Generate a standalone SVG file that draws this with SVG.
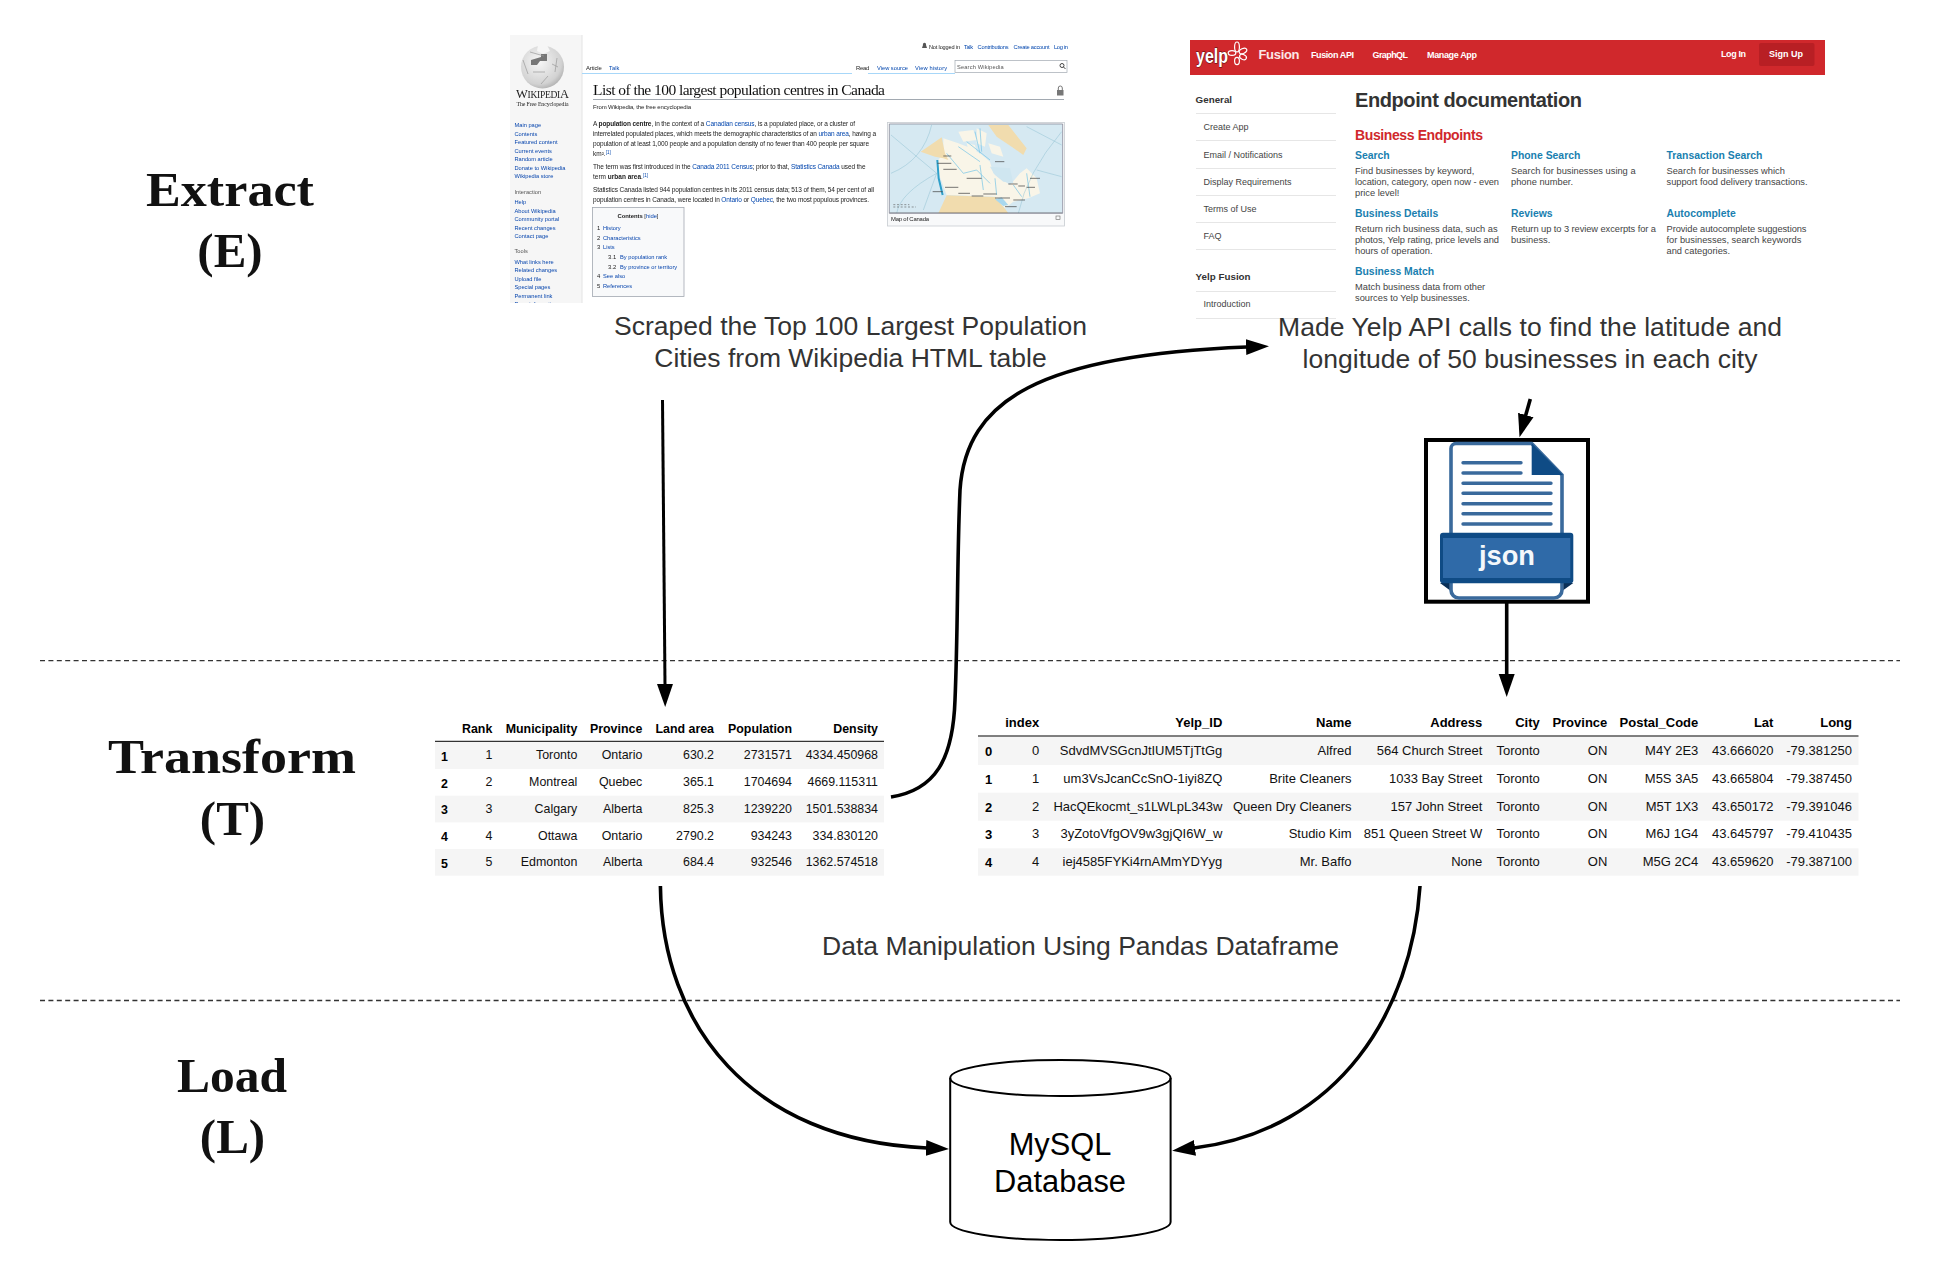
<svg xmlns="http://www.w3.org/2000/svg" width="1940" height="1280" viewBox="0 0 1940 1280">
<style>
text{font-family:"Liberation Sans",Arial,sans-serif}
.stage{font-family:"Liberation Serif","DejaVu Serif",serif;font-weight:700;font-size:49px;fill:#111;text-anchor:middle}
.cap{font-size:26.5px;fill:#333;text-anchor:middle}
.w{font-size:6.5px;fill:#222}
.l{fill:#0645ad}
.b{font-weight:700}
.s{font-size:5.7px;fill:#0645ad}
.sh{font-size:5.7px;fill:#555}
.c{font-size:5.9px;fill:#222}
.y{font-size:9px;fill:#444}
.yh{font-size:10.4px;font-weight:700;fill:#1a7fb0}
.yn{font-size:9px;font-weight:700;fill:#fff}
.ys{font-size:9.3px;fill:#444}
.yb{font-size:9.8px;font-weight:700;fill:#333}
.t1{font-size:12.4px;fill:#111;text-anchor:end}
.t1h{font-size:12.4px;font-weight:700;fill:#000;text-anchor:end}
.t2{font-size:13px;fill:#111;text-anchor:end}
.t2h{font-size:13px;font-weight:700;fill:#000;text-anchor:end}
.bd{font-weight:700;fill:#000;text-anchor:start}
.conn{fill:none;stroke:#000;stroke-width:3.6}
.dash{stroke:#333;stroke-width:1.3;stroke-dasharray:5 3.4;fill:none}
.dv{stroke:#e6e6e6;stroke-width:1}
.st{fill:#f5f5f5}
.doc{stroke:#3a6a9c;stroke-width:3.4;stroke-linecap:round}
</style>
<defs>
<marker id="head" markerUnits="userSpaceOnUse" markerWidth="25" markerHeight="18" refX="1" refY="8.5" orient="auto"><path d="M0 0.5L23 8.5L0 16.5Z" fill="#000"/></marker>
<radialGradient id="globe" cx="0.42" cy="0.38" r="0.72"><stop offset="0" stop-color="#f7f7f7"/><stop offset="0.72" stop-color="#d2d2d2"/><stop offset="1" stop-color="#a0a0a0"/></radialGradient>
<filter id="soft" x="-2%" y="-2%" width="104%" height="104%"><feGaussianBlur stdDeviation="0.32"/></filter>
<clipPath id="wikiclip"><rect x="505" y="35" width="570" height="268"/></clipPath>
<clipPath id="mapclip"><rect x="28" y="42" width="520" height="268"/></clipPath>
</defs>
<rect width="1940" height="1280" fill="#fff"/>

<g id="stage-labels">
<text class="stage" x="230" y="205.7" textLength="168" lengthAdjust="spacingAndGlyphs">Extract</text>
<text class="stage" x="230" y="266.7">(E)</text>
<text class="stage" x="232" y="773.3" textLength="248" lengthAdjust="spacingAndGlyphs">Transform</text>
<text class="stage" x="232.5" y="834.7">(T)</text>
<text class="stage" x="232" y="1091.7" textLength="110" lengthAdjust="spacingAndGlyphs">Load</text>
<text class="stage" x="232.5" y="1153">(L)</text>
</g>

<g id="separators">
<line class="dash" x1="40" y1="660.7" x2="1900" y2="660.7"/>
<line class="dash" x1="40" y1="1000.5" x2="1900" y2="1000.5"/>
</g>

<g id="wikipedia-screenshot" clip-path="url(#wikiclip)">
<g filter="url(#soft)">
<rect x="510" y="35" width="72" height="268" fill="#f6f6f6"/>
<path d="M582 35V303" stroke="#e4e4e4"/>
<circle cx="542.5" cy="67" r="21.5" fill="url(#globe)"/>
<path d="M538 45l9 0l3 6l-7 3l-6-3Z" fill="#f6f6f6"/>
<path d="M531 60l10-3l0-3l6 0l0 7l-7 0l-3 4l-6 0Z" fill="#777"/>
<path d="M523 60l5 14M557 58l-2 14M548 76l-7 8M530 52l14 4M533 72h12M552 64l6 3" stroke="#999" stroke-width="0.7" fill="none"/>
<text x="516" y="98" style="font-family:'Liberation Serif',serif" fill="#222" font-size="12.5" textLength="53">W<tspan font-size="9.5">IKIPEDI</tspan>A</text>
<text x="542.5" y="105.5" font-size="5.8" text-anchor="middle" style="font-family:'Liberation Serif',serif" fill="#222" textLength="52">The Free Encyclopedia</text>
<text class="s" x="514.5" y="127">Main page</text>
<text class="s" x="514.5" y="135.5">Contents</text>
<text class="s" x="514.5" y="144">Featured content</text>
<text class="s" x="514.5" y="152.5">Current events</text>
<text class="s" x="514.5" y="161">Random article</text>
<text class="s" x="514.5" y="169.5">Donate to Wikipedia</text>
<text class="s" x="514.5" y="178">Wikipedia store</text>
<text class="sh" x="514.5" y="193.5">Interaction</text>
<text class="s" x="514.5" y="204">Help</text>
<text class="s" x="514.5" y="212.5">About Wikipedia</text>
<text class="s" x="514.5" y="221">Community portal</text>
<text class="s" x="514.5" y="229.5">Recent changes</text>
<text class="s" x="514.5" y="238">Contact page</text>
<text class="sh" x="514.5" y="253">Tools</text>
<text class="s" x="514.5" y="263.5">What links here</text>
<text class="s" x="514.5" y="272">Related changes</text>
<text class="s" x="514.5" y="280.5">Upload file</text>
<text class="s" x="514.5" y="289">Special pages</text>
<text class="s" x="514.5" y="297.5">Permanent link</text>
<text class="s" x="514.5" y="306">Page information</text>

<text class="c" x="929" y="49" style="font-size:5.6px" textLength="31">Not logged in</text>
<path d="M922 48h5l-1-3a1.6 1.6 0 1 0-3 0Z" fill="#555"/>
<text class="s" x="964" y="49" textLength="9">Talk</text>
<text class="s" x="977.6" y="49" textLength="31">Contributions</text>
<text class="s" x="1013.6" y="49" textLength="36">Create account</text>
<text class="s" x="1054" y="49" textLength="14">Log in</text>
<path d="M582 73.5H852M868 73.5H955" stroke="#a7d7f9"/>
<text class="c" x="586" y="70" textLength="15.7">Article</text>
<text class="s" x="609" y="70" textLength="10.3">Talk</text>
<text class="c" x="856" y="70" textLength="13.4">Read</text>
<text class="s" x="877" y="70" textLength="31">View source</text>
<text class="s" x="915" y="70" textLength="32">View history</text>
<rect x="955" y="60.5" width="112" height="12" fill="#fff" stroke="#a2a9b1" stroke-width="0.7"/>
<text class="sh" x="957" y="69" textLength="46.7">Search Wikipedia</text>
<circle cx="1062" cy="65.5" r="2" fill="none" stroke="#444"/><path d="M1063.5 67l2 2" stroke="#444"/>

<text x="593" y="95" font-size="15.5" style="font-family:'Liberation Serif',serif" fill="#111" textLength="292">List of the 100 largest population centres in Canada</text>
<path d="M593 99.5H1064" stroke="#a2a9b1"/>
<rect x="1057" y="90" width="6.5" height="5.5" fill="#777"/><path d="M1058.3 90v-2a2 2 0 0 1 4 0v2" fill="none" stroke="#777"/>
<text class="w" x="593" y="109" textLength="98" style="font-size:6px">From Wikipedia, the free encyclopedia</text>

<text class="w" x="593" y="126" textLength="262">A <tspan class="b">population centre</tspan>, in the context of a <tspan class="l">Canadian census</tspan>, is a populated place, or a cluster of</text>
<text class="w" x="593" y="136" textLength="283">interrelated populated places, which meets the demographic characteristics of an <tspan class="l">urban area</tspan>, having a</text>
<text class="w" x="593" y="146" textLength="276">population of at least 1,000 people and a population density of no fewer than 400 people per square</text>
<text class="w" x="593" y="156">km².<tspan class="l" font-size="4.5" dy="-2">[1]</tspan></text>
<text class="w" x="593" y="169" textLength="272.5">The term was first introduced in the <tspan class="l">Canada 2011 Census</tspan>; prior to that, <tspan class="l">Statistics Canada</tspan> used the</text>
<text class="w" x="593" y="178.5">term <tspan class="b">urban area</tspan>.<tspan class="l" font-size="4.5" dy="-2">[1]</tspan></text>
<text class="w" x="593" y="192" textLength="281">Statistics Canada listed 944 population centres in its 2011 census data; 513 of them, 54 per cent of all</text>
<text class="w" x="593" y="201.5" textLength="276">population centres in Canada, were located in <tspan class="l">Ontario</tspan> or <tspan class="l">Quebec</tspan>, the two most populous provinces.</text>

<rect x="592.5" y="207.5" width="91.5" height="89" fill="#f8f9fa" stroke="#a2a9b1" stroke-width="0.8"/>
<text class="c" x="638" y="218" text-anchor="middle" textLength="41"><tspan class="b">Contents</tspan> [<tspan class="l">hide</tspan>]</text>
<text class="c" x="597" y="229.5">1</text><text class="s" x="603" y="229.5">History</text>
<text class="c" x="597" y="239.5">2</text><text class="s" x="603" y="239.5">Characteristics</text>
<text class="c" x="597" y="249">3</text><text class="s" x="603" y="249">Lists</text>
<text class="c" x="608" y="258.5">3.1</text><text class="s" x="620" y="258.5">By population rank</text>
<text class="c" x="608" y="268.5">3.2</text><text class="s" x="620" y="268.5">By province or territory</text>
<text class="c" x="597" y="278">4</text><text class="s" x="603" y="278">See also</text>
<text class="c" x="597" y="288">5</text><text class="s" x="603" y="288">References</text>

<rect x="887.5" y="122.5" width="177" height="103.5" fill="#f8f9fa" stroke="#c8ccd1" stroke-width="0.8"/>
<g transform="translate(880 110) scale(0.3333)">
<g clip-path="url(#mapclip)">
<rect x="28" y="42" width="520" height="268" fill="#d6e9f2"/>
<path d="M190 85L235 100L262 110L300 130L330 155L340 190L390 225L420 190L440 175L470 205L480 250L445 265L400 275L375 295L345 260L200 255L170 175L175 150L190 130Z" fill="#f9f5e8"/>
<path d="M235 65L280 60L290 90L250 95ZM290 55L320 70L315 110L290 100ZM325 100L360 110L370 140L335 130ZM260 100L285 105L290 125L265 120Z" fill="#f9f5e8"/>
<path d="M122 125L185 82L195 130L205 150L190 145L165 140Z" fill="#f1dcae"/>
<path d="M325 45L385 45L440 115L430 135L395 110L350 80Z" fill="#f1dcae"/>
<path d="M175 310L200 256L345 261L375 296L385 310Z" fill="#f1dcae"/>
<path d="M330 170L390 175L400 220L370 215L345 195Z" fill="#cfe6f0"/>
<path d="M345 268L365 262L385 285L370 288Z" fill="#a9d8ee"/>
<path d="M285 65L300 130M260 95L330 150M300 55L305 125M235 110L300 155M200 130L250 190M250 190L290 180L330 220M300 165L310 240M345 205L350 255M400 225L425 260M440 190L450 260" stroke="#7cc7e6" stroke-width="2.2" fill="none"/>
<path d="M33 190Q130 150 155 45M33 75L170 190M170 190Q60 250 50 310M545 65Q440 190 415 310M545 200L470 180M440 50L545 105M130 300L170 190" stroke="#86bccd" stroke-width="1.3" fill="none"/>
<path d="M172 150L176 205L188 255" stroke="#2d9fc9" stroke-width="6" fill="none"/>
<path d="M190 138h24M172 160h42M190 178h40M260 205h45M345 155h28M158 245h30M195 232h40M235 250h35M275 258h35M310 252h40M345 264h45M385 222h28M415 228h20M440 232h25M450 205h30M400 270h35M375 290h35" stroke="#444" stroke-width="2.2" fill="none"/>
<path d="M40 284h48M40 291h68" stroke="#555" stroke-width="1.8" fill="none" stroke-dasharray="6 5"/>
<path d="M28 309.5H548" stroke="#555" stroke-width="3"/>
</g>
<path d="M28 42H548V310H28Z" fill="none" stroke="#778" stroke-width="2"/>
</g>
<text class="c" x="891" y="221" textLength="38">Map of Canada</text>
<rect x="1056" y="216" width="4" height="3.5" fill="none" stroke="#666" stroke-width="0.6"/>
</g>
</g>

<g id="yelp-screenshot">
<rect x="1190" y="40" width="635" height="35" fill="#d0282c"/>
<text x="1196" y="62.5" font-size="21" font-weight="700" fill="#fff" stroke="#4a0c0c" stroke-width="0.9" paint-order="stroke" textLength="32" lengthAdjust="spacingAndGlyphs">yelp</text>
<g fill="#d0282c" stroke="#fff" stroke-width="1.2">
<ellipse cx="1237" cy="47" rx="2.4" ry="5"/>
<ellipse cx="1243" cy="51" rx="4" ry="2.4" transform="rotate(-25 1243 51)"/>
<ellipse cx="1243" cy="57" rx="3.6" ry="2.4" transform="rotate(25 1243 57)"/>
<ellipse cx="1237" cy="61" rx="2.4" ry="3.6"/>
<ellipse cx="1232" cy="53" rx="3.8" ry="2.4"/>
</g>
<text x="1258.5" y="59" font-size="13" font-weight="700" fill="#fbe6e6" textLength="41">Fusion</text>
<text class="yn" x="1311" y="58" textLength="43">Fusion API</text>
<text class="yn" x="1372.5" y="58" textLength="35.5">GraphQL</text>
<text class="yn" x="1427" y="58" textLength="50">Manage App</text>
<text class="yn" x="1721" y="57" textLength="25">Log In</text>
<rect x="1759" y="43" width="55.5" height="23" rx="2" fill="#b81f24"/>
<text class="yn" x="1769" y="57" textLength="34">Sign Up</text>

<text class="yb" x="1195.6" y="103">General</text>
<text class="y" x="1203.4" y="130">Create App</text>
<text class="y" x="1203.4" y="157.6">Email / Notifications</text>
<text class="y" x="1203.4" y="185">Display Requirements</text>
<text class="y" x="1203.4" y="211.6">Terms of Use</text>
<text class="y" x="1203.4" y="238.6">FAQ</text>
<text class="yb" x="1195.6" y="280">Yelp Fusion</text>
<text class="y" x="1203.4" y="307">Introduction</text>
<path class="dv" d="M1196 113.5H1336M1196 140.5H1336M1196 168.5H1336M1196 195.5H1336M1196 222.5H1336M1196 249.5H1336M1196 291.5H1336M1196 318.5H1336"/>

<text x="1355" y="107" font-size="20" font-weight="700" fill="#333" textLength="227">Endpoint documentation</text>
<text x="1355" y="140" font-size="14" font-weight="700" fill="#d0282c" textLength="128">Business Endpoints</text>

<text class="yh" x="1355" y="158.7">Search</text>
<text class="yh" x="1511" y="158.7">Phone Search</text>
<text class="yh" x="1666.5" y="158.7">Transaction Search</text>
<text class="ys" x="1355" y="173.7">Find businesses by keyword,</text>
<text class="ys" x="1355" y="184.7" textLength="144">location, category, open now - even</text>
<text class="ys" x="1355" y="195.7">price level!</text>
<text class="ys" x="1511" y="173.7">Search for businesses using a</text>
<text class="ys" x="1511" y="184.7">phone number.</text>
<text class="ys" x="1666.5" y="173.7">Search for businesses which</text>
<text class="ys" x="1666.5" y="184.7" textLength="141">support food delivery transactions.</text>

<text class="yh" x="1355" y="216.7">Business Details</text>
<text class="yh" x="1511" y="216.7">Reviews</text>
<text class="yh" x="1666.5" y="216.7">Autocomplete</text>
<text class="ys" x="1355" y="231.7">Return rich business data, such as</text>
<text class="ys" x="1355" y="242.7" textLength="144">photos, Yelp rating, price levels and</text>
<text class="ys" x="1355" y="253.7">hours of operation.</text>
<text class="ys" x="1511" y="231.7" textLength="145">Return up to 3 review excerpts for a</text>
<text class="ys" x="1511" y="242.7">business.</text>
<text class="ys" x="1666.5" y="231.7" textLength="140">Provide autocomplete suggestions</text>
<text class="ys" x="1666.5" y="242.7">for businesses, search keywords</text>
<text class="ys" x="1666.5" y="253.7">and categories.</text>

<text class="yh" x="1355" y="275">Business Match</text>
<text class="ys" x="1355" y="290">Match business data from other</text>
<text class="ys" x="1355" y="301">sources to Yelp businesses.</text>
</g>

<g id="scrape-caption">
<text class="cap" x="850.5" y="335" textLength="473">Scraped the Top 100 Largest Population</text>
<text class="cap" x="850.5" y="367" textLength="392.5">Cities from Wikipedia HTML table</text>
</g>
<g id="yelp-caption">
<text class="cap" x="1530" y="336" textLength="504">Made Yelp API calls to find the latitude and</text>
<text class="cap" x="1530" y="368" textLength="455">longitude of 50 businesses in each city</text>
</g>

<g id="json-file">
<rect x="1426" y="440" width="162" height="161.7" fill="#fff" stroke="#000" stroke-width="4"/>
<path d="M1531.7 443.5H1456a5 5 0 0 0-5 5V590a8 8 0 0 0 8 8H1554a8 8 0 0 0 8-8V475Z" fill="#fff" stroke="#3a6a9c" stroke-width="3.6"/>
<path d="M1531.7 443.3L1563 475H1531.7Z" fill="#0f4b85"/>
<path class="doc" d="M1463 462.7H1521M1463 473H1521M1463 483.3H1551M1463 493.3H1551M1463 503.7H1551M1463 513.7H1551M1463 524H1551"/>
<path d="M1440 583L1449.5 590V583ZM1573.3 583L1563.5 590V583Z" fill="#0a2f57"/>
<rect x="1440" y="532.7" width="133.3" height="50.6" rx="3" fill="#0f4b85"/>
<rect x="1443" y="538" width="127.3" height="40" fill="#2f6aa8"/>
<text x="1507" y="565" font-size="27" font-weight="700" fill="#f4f8fb" text-anchor="middle" textLength="56" lengthAdjust="spacingAndGlyphs">json</text>
</g>

<g id="table-cities">
<rect class="st" x="435" y="742" width="449" height="27"/>
<rect class="st" x="435" y="795.7" width="449" height="26.7"/>
<rect class="st" x="435" y="849" width="449" height="26.7"/>
<path d="M435 741.3H884" stroke="#000" stroke-width="1"/>
<text class="t1h" x="492.3" y="732.7">Rank</text><text class="t1h" x="577.3" y="732.7">Municipality</text><text class="t1h" x="642.3" y="732.7">Province</text><text class="t1h" x="714" y="732.7">Land area</text><text class="t1h" x="792" y="732.7">Population</text><text class="t1h" x="878" y="732.7">Density</text>
<text class="t1 bd" x="441" y="760.5">1</text><text class="t1" x="492.3" y="759.3">1</text><text class="t1" x="577.3" y="759.3">Toronto</text><text class="t1" x="642.3" y="759.3">Ontario</text><text class="t1" x="714" y="759.3">630.2</text><text class="t1" x="792" y="759.3">2731571</text><text class="t1" x="878" y="759.3">4334.450968</text>
<text class="t1 bd" x="441" y="787.5">2</text><text class="t1" x="492.3" y="786.3">2</text><text class="t1" x="577.3" y="786.3">Montreal</text><text class="t1" x="642.3" y="786.3">Quebec</text><text class="t1" x="714" y="786.3">365.1</text><text class="t1" x="792" y="786.3">1704694</text><text class="t1" x="878" y="786.3">4669.115311</text>
<text class="t1 bd" x="441" y="814.2">3</text><text class="t1" x="492.3" y="813">3</text><text class="t1" x="577.3" y="813">Calgary</text><text class="t1" x="642.3" y="813">Alberta</text><text class="t1" x="714" y="813">825.3</text><text class="t1" x="792" y="813">1239220</text><text class="t1" x="878" y="813">1501.538834</text>
<text class="t1 bd" x="441" y="840.9">4</text><text class="t1" x="492.3" y="839.7">4</text><text class="t1" x="577.3" y="839.7">Ottawa</text><text class="t1" x="642.3" y="839.7">Ontario</text><text class="t1" x="714" y="839.7">2790.2</text><text class="t1" x="792" y="839.7">934243</text><text class="t1" x="878" y="839.7">334.830120</text>
<text class="t1 bd" x="441" y="867.5">5</text><text class="t1" x="492.3" y="866.3">5</text><text class="t1" x="577.3" y="866.3">Edmonton</text><text class="t1" x="642.3" y="866.3">Alberta</text><text class="t1" x="714" y="866.3">684.4</text><text class="t1" x="792" y="866.3">932546</text><text class="t1" x="878" y="866.3">1362.574518</text>
</g>

<g id="table-businesses">
<rect class="st" x="978" y="736.7" width="880.5" height="28.3"/>
<rect class="st" x="978" y="792.7" width="880.5" height="28"/>
<rect class="st" x="978" y="848.3" width="880.5" height="27.4"/>
<path d="M978 736H1858.5" stroke="#000" stroke-width="1"/>
<text class="t2h" x="1039.2" y="727">index</text><text class="t2h" x="1222.3" y="727">Yelp_ID</text><text class="t2h" x="1351.5" y="727">Name</text><text class="t2h" x="1482.3" y="727">Address</text><text class="t2h" x="1539.8" y="727">City</text><text class="t2h" x="1607.3" y="727">Province</text><text class="t2h" x="1698.3" y="727">Postal_Code</text><text class="t2h" x="1773.4" y="727">Lat</text><text class="t2h" x="1852" y="727">Long</text>
<text class="t2 bd" x="985" y="756">0</text><text class="t2" x="1039.2" y="755">0</text><text class="t2" x="1222.3" y="755">SdvdMVSGcnJtIUM5TjTtGg</text><text class="t2" x="1351.5" y="755">Alfred</text><text class="t2" x="1482.3" y="755">564 Church Street</text><text class="t2" x="1539.8" y="755">Toronto</text><text class="t2" x="1607.3" y="755">ON</text><text class="t2" x="1698.3" y="755">M4Y 2E3</text><text class="t2" x="1773.4" y="755">43.666020</text><text class="t2" x="1852" y="755">-79.381250</text>
<text class="t2 bd" x="985" y="783.7">1</text><text class="t2" x="1039.2" y="782.7">1</text><text class="t2" x="1222.3" y="782.7">um3VsJcanCcSnO-1iyi8ZQ</text><text class="t2" x="1351.5" y="782.7">Brite Cleaners</text><text class="t2" x="1482.3" y="782.7">1033 Bay Street</text><text class="t2" x="1539.8" y="782.7">Toronto</text><text class="t2" x="1607.3" y="782.7">ON</text><text class="t2" x="1698.3" y="782.7">M5S 3A5</text><text class="t2" x="1773.4" y="782.7">43.665804</text><text class="t2" x="1852" y="782.7">-79.387450</text>
<text class="t2 bd" x="985" y="811.7">2</text><text class="t2" x="1039.2" y="810.7">2</text><text class="t2" x="1222.3" y="810.7">HacQEkocmt_s1LWLpL343w</text><text class="t2" x="1351.5" y="810.7">Queen Dry Cleaners</text><text class="t2" x="1482.3" y="810.7">157 John Street</text><text class="t2" x="1539.8" y="810.7">Toronto</text><text class="t2" x="1607.3" y="810.7">ON</text><text class="t2" x="1698.3" y="810.7">M5T 1X3</text><text class="t2" x="1773.4" y="810.7">43.650172</text><text class="t2" x="1852" y="810.7">-79.391046</text>
<text class="t2 bd" x="985" y="839.3">3</text><text class="t2" x="1039.2" y="838.3">3</text><text class="t2" x="1222.3" y="838.3">3yZotoVfgOV9w3gjQI6W_w</text><text class="t2" x="1351.5" y="838.3">Studio Kim</text><text class="t2" x="1482.3" y="838.3">851 Queen Street W</text><text class="t2" x="1539.8" y="838.3">Toronto</text><text class="t2" x="1607.3" y="838.3">ON</text><text class="t2" x="1698.3" y="838.3">M6J 1G4</text><text class="t2" x="1773.4" y="838.3">43.645797</text><text class="t2" x="1852" y="838.3">-79.410435</text>
<text class="t2 bd" x="985" y="867">4</text><text class="t2" x="1039.2" y="866">4</text><text class="t2" x="1222.3" y="866">iej4585FYKi4rnAMmYDYyg</text><text class="t2" x="1351.5" y="866">Mr. Baffo</text><text class="t2" x="1482.3" y="866">None</text><text class="t2" x="1539.8" y="866">Toronto</text><text class="t2" x="1607.3" y="866">ON</text><text class="t2" x="1698.3" y="866">M5G 2C4</text><text class="t2" x="1773.4" y="866">43.659620</text><text class="t2" x="1852" y="866">-79.387100</text>
</g>

<g id="pandas-caption">
<text class="cap" x="1080.6" y="955" textLength="517">Data Manipulation Using Pandas Dataframe</text>
</g>

<g id="mysql-database">
<path d="M950.2 1078A110.2 18 0 0 1 1170.6 1078V1222A110.2 18 0 0 1 950.2 1222Z" fill="#fff" stroke="#000" stroke-width="2"/>
<path d="M950.2 1078A110.2 18 0 0 0 1170.6 1078" fill="none" stroke="#000" stroke-width="2"/>
<text x="1060" y="1155" font-size="30.8" text-anchor="middle" fill="#000">MySQL</text>
<text x="1060" y="1192" font-size="30.8" text-anchor="middle" fill="#000">Database</text>
</g>

<g id="connectors">
<path class="conn" style="stroke-width:3" marker-end="url(#head)" d="M662.5 400L665 685"/>
<path class="conn" marker-end="url(#head)" d="M891 797C935 790 953 760 955 700C958 630 957 560 960 490C966 400 1040 355 1247 347"/>
<path class="conn" marker-end="url(#head)" d="M1530.3 399L1525.5 416"/>
<path class="conn" marker-end="url(#head)" d="M1506.7 603V675"/>
<path class="conn" marker-end="url(#head)" d="M660.4 886C662 1025 750 1140 927 1148"/>
<path class="conn" marker-end="url(#head)" d="M1420 886C1412 1010 1340 1130 1194 1148"/>
</g>
</svg>
